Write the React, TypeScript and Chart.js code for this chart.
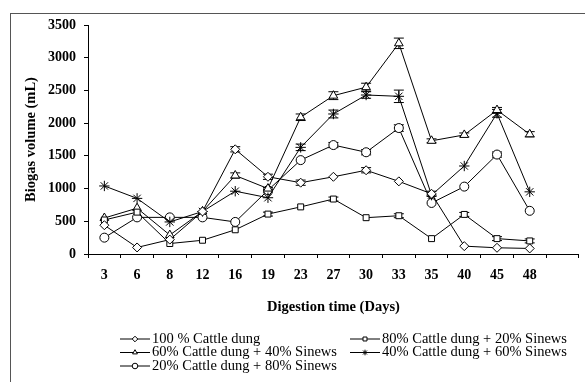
import React, { useEffect, useRef } from "react";
import { Chart, registerables } from "chart.js";
import { drawPoint } from "chart.js/helpers";

Chart.register(...registerables);

const days = ["3", "6", "8", "12", "16", "19", "23", "27", "30", "33", "35", "40", "45", "48", ""];
const yTicks = [0, 500, 1000, 1500, 2000, 2500, 3000, 3500];

const cattle100 = [440, 100, 220, 650, 1600, 1180, 1090, 1180, 1280, 1110, 920, 120, 95, 85];
const cattle80 = [520, 640, 160, 210, 370, 610, 720, 840, 555, 585, 235, 605, 235, 200];
const cattle60 = [550, 700, 290, 650, 1200, 1000, 2090, 2420, 2550, 3220, 1730, 1820, 2200, 1830];
const cattle40 = [1040, 850, 490, 650, 960, 860, 1630, 2140, 2430, 2410, 900, 1345, 2150, 950];
const cattle20 = [250, 560, 560, 560, 490, 975, 1435, 1665, 1555, 1925, 780, 1030, 1520, 660];

const cattle100Err = [0, 0, 0, 0, 40, 40, 40, 0, 40, 0, 40, 0, 0, 0];
const cattle80Err = [0, 0, 0, 0, 0, 30, 0, 30, 0, 30, 0, 30, 30, 30];
const cattle60Err = [0, 0, 0, 0, 40, 0, 50, 60, 60, 80, 30, 30, 40, 40];
const cattle40Err = [0, 0, 0, 0, 0, 0, 50, 60, 50, 95, 0, 0, 60, 0];
const cattle20Err = [0, 0, 0, 0, 0, 40, 0, 40, 40, 50, 0, 0, 40, 0];

const seriesLabels = [
  "100 % Cattle dung",
  "80% Cattle dung + 20% Sinews",
  "60% Cattle dung + 40% Sinews",
  "40% Cattle dung + 60% Sinews",
  "20% Cattle dung + 80% Sinews",
];

const App = () => {
  const ref = useRef<HTMLCanvasElement | null>(null);

  useEffect(() => {
    if (!ref.current) return;
    const errs = [cattle100Err, cattle80Err, cattle60Err, cattle40Err, cattle20Err];
    const styles: any[] = ["rectRot", "rect", "triangle", "star", "circle"];
    const radii = [4.5, 4.2, 5, 5.2, 4.5];
    const values = [cattle100, cattle80, cattle60, cattle40, cattle20];

    const errorBars = {
      id: "errorBars",
      beforeDatasetsDraw(chart: any) {
        const ctx = chart.ctx;
        const yScale = chart.scales.y;
        ctx.save();
        ctx.strokeStyle = "#000";
        ctx.lineWidth = 1;
        chart.data.datasets.forEach((ds: any, di: number) => {
          const meta = chart.getDatasetMeta(di);
          const e = errs[di];
          ds.data.forEach((v: number, i: number) => {
            if (!e[i]) return;
            const x = meta.data[i].x;
            const yt = yScale.getPixelForValue(v + e[i]);
            const yb = yScale.getPixelForValue(v - e[i]);
            ctx.beginPath();
            ctx.moveTo(x, yt);
            ctx.lineTo(x, yb);
            ctx.moveTo(x - 5, yt);
            ctx.lineTo(x + 5, yt);
            ctx.moveTo(x - 5, yb);
            ctx.lineTo(x + 5, yb);
            ctx.stroke();
          });
        });
        ctx.restore();
      },
    };

    const legendPlugin = {
      id: "customLegend",
      afterDraw(chart: any) {
        const ctx = chart.ctx;
        const pos = [
          [120, 339],
          [350, 339],
          [120, 352.5],
          [350, 352.5],
          [120, 366],
        ];
        ctx.save();
        seriesLabels.forEach((label, i) => {
          const [x0, y] = pos[i];
          ctx.strokeStyle = "#000";
          ctx.lineWidth = 1;
          ctx.beginPath();
          ctx.moveTo(x0, y);
          ctx.lineTo(x0 + 30, y);
          ctx.stroke();
          ctx.fillStyle = "#fff";
          ctx.strokeStyle = "#000";
          ctx.lineWidth = 1;
          drawPoint(ctx, { pointStyle: styles[i], radius: 2.8, borderWidth: 1, rotation: 0 } as any, x0 + 15, y);
          ctx.fillStyle = "#000";
          ctx.font = "14.5px 'Liberation Serif', 'Times New Roman', serif";
          ctx.textBaseline = "middle";
          ctx.textAlign = "left";
          ctx.fillText(label, x0 + 32, y);
        });
        ctx.restore();
      },
    };

    const chart = new Chart(ref.current, {
      type: "line",
      data: {
        labels: days,
        datasets: values.map((d, i) => ({
          label: seriesLabels[i],
          data: d,
          borderColor: "#000",
          borderWidth: 1,
          backgroundColor: "#fff",
          pointStyle: styles[i],
          pointRadius: radii[i],
          pointBorderWidth: 1,
          pointBorderColor: "#000",
          pointBackgroundColor: "#fff",
          tension: 0,
          fill: false,
        })),
      },
      options: {
        animation: false,
        responsive: false,
        devicePixelRatio: 1,
        layout: { padding: { left: 0, right: 3, top: 25, bottom: 0 } },
        plugins: {
          legend: { display: false },
          tooltip: { enabled: false },
        },
        scales: {
          x: {
            type: "category",
            offset: true,
            grid: {
              offset: true,
              drawOnChartArea: false,
              drawTicks: true,
              tickLength: 4,
              color: "#000",
            },
            border: { display: true, color: "#000", width: 1 },
            ticks: {
              color: "#000",
              padding: 9,
              maxRotation: 0,
              autoSkip: false,
              font: { family: "'Liberation Serif', serif", size: 14, weight: "bold" },
            },
            title: {
              display: true,
              text: "Digestion time (Days)",
              color: "#000",
              font: { family: "'Liberation Serif', serif", size: 14.5, weight: "bold" },
              padding: { top: 0, bottom: 66 },
            },
            afterFit: (scale: any) => {
              scale.height = 128;
            },
          },
          y: {
            min: 0,
            max: 3500,
            afterBuildTicks: (scale: any) => {
              scale.ticks = yTicks.map((v) => ({ value: v }));
            },
            grid: {
              drawOnChartArea: false,
              drawTicks: true,
              tickLength: 4,
              color: "#000",
            },
            border: { display: true, color: "#000", width: 1 },
            ticks: {
              color: "#000",
              padding: 8,
              callback: (v: any) => String(v),
              font: { family: "'Liberation Serif', serif", size: 14, weight: "bold" },
            },
            title: {
              display: true,
              text: "Biogas volume (mL)",
              color: "#000",
              font: { family: "'Liberation Serif', serif", size: 14.5, weight: "bold" },
              padding: { top: 23, bottom: 0 },
            },
            afterFit: (scale: any) => {
              scale.width = 88;
            },
          },
        },
      } as any,
      plugins: [errorBars, legendPlugin],
    });
    return () => chart.destroy();
  }, []);

  return (
    <div style={{ position: "absolute", left: 0, top: 0, width: 585, height: 382, overflow: "hidden", background: "#fff" }}>
      <div
        style={{
          position: "absolute",
          left: 10,
          top: 13,
          width: 600,
          height: 400,
          borderLeft: "1px solid #555",
          borderTop: "1px solid #555",
        }}
      />
      <canvas ref={ref} width={585} height={382} style={{ position: "absolute", left: 0, top: 0, width: 585, height: 382 }} />
    </div>
  );
};

export default App;
